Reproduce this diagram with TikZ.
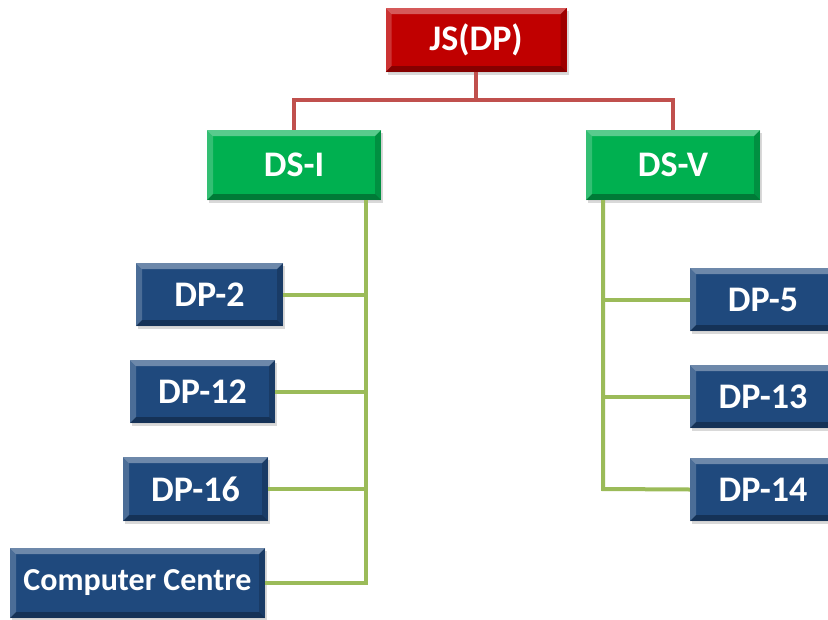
\documentclass[tikz,border=0pt]{standalone}
\usepackage{fontspec}
\setmainfont{Carlito}
\usetikzlibrary{shadows}
\definecolor{jsred}{HTML}{C00000}
\definecolor{dsgreen}{HTML}{00B050}
\definecolor{dpblue}{HTML}{1F497D}
\definecolor{redline}{HTML}{C0504D}
\definecolor{greenline}{HTML}{9BBB59}
\tikzset{
  bevel/.style={path picture={
    \path (path picture bounding box.south west) coordinate (bsw)
          (path picture bounding box.north east) coordinate (bne);
    \path (bsw) ++(6pt,6pt) coordinate (isw);
    \path (bne) ++(-6pt,-6pt) coordinate (ine);
    \fill[white,opacity=.35] (bsw|-bne) -- (bne) -- (ine) -- (isw|-ine) -- cycle;
    \fill[white,opacity=.2] (bsw) -- (bsw|-bne) -- (isw|-ine) -- (isw) -- cycle;
    \fill[black,opacity=.3] (bsw) -- (bne|-bsw) -- (ine|-isw) -- (isw) -- cycle;
    \fill[black,opacity=.18] (bne|-bsw) -- (bne) -- (ine) -- (ine|-isw) -- cycle;
  }},
  box/.style={draw=none, inner sep=0pt, text=white,
    font=\bfseries\fontsize{36}{40}\selectfont, bevel,
    drop shadow={shadow xshift=2pt,shadow yshift=-3pt,opacity=0.3}},
  jsbox/.style={box, fill=jsred, minimum width=181pt, minimum height=64pt},
  dsbox/.style={box, fill=dsgreen, minimum width=174pt, minimum height=70pt},
  dpbox/.style={box, fill=dpblue, minimum width=146pt, minimum height=63pt},
  rline/.style={draw=redline, line width=4pt},
  gline/.style={draw=greenline, line width=4pt},
}
\begin{document}
\begin{tikzpicture}[x=1pt,y=-1pt]
\useasboundingbox (0,0) rectangle (828,619);
\coordinate (lb) at (366,583);
\coordinate (rb) at (603,489);
\node[jsbox] (js) at (476,40) {JS(DP)};
\node[dsbox] (dsi) at (294,165) {DS-I};
\node[dsbox] (dsv) at (673,165) {DS-V};
\node[dpbox, minimum width=147pt] (dp2) at (209.5,294.5) {DP-2};
\node[dpbox, minimum width=145pt] (dp12) at (202.5,391.5) {DP-12};
\node[dpbox, minimum width=145pt, minimum height=64pt] (dp16) at (195.5,489) {DP-16};
\node[dpbox, minimum width=255pt, minimum height=70pt, font=\bfseries\fontsize{32}{36}\selectfont] (cc) at (137.5,583) {Computer Centre};
\node[dpbox] (dp5) at (763,299.5) {DP-5};
\node[dpbox] (dp13) at (763,396.5) {DP-13};
\node[dpbox] (dp14) at (763,489.5) {DP-14};
\draw[rline] (js.south) -- ++(0,28) coordinate (jsb);
\draw[rline] (jsb) -| (dsi.north);
\draw[rline] (jsb) -| (dsv.north);
\draw[gline] (dsi.south -| lb) -- (lb) -- (cc.east);
\draw[gline] (dp2.east) -- (dp2.east -| lb);
\draw[gline] (dp12.east) -- (dp12.east -| lb);
\draw[gline] (dp16.east) -- (dp16.east -| lb);
\draw[gline] (dsv.south -| rb) -- (rb) -- (dp14.west);
\draw[gline] (dp5.west) -- (dp5.west -| rb);
\draw[gline] (dp13.west) -- (dp13.west -| rb);
\end{tikzpicture}
\end{document}
